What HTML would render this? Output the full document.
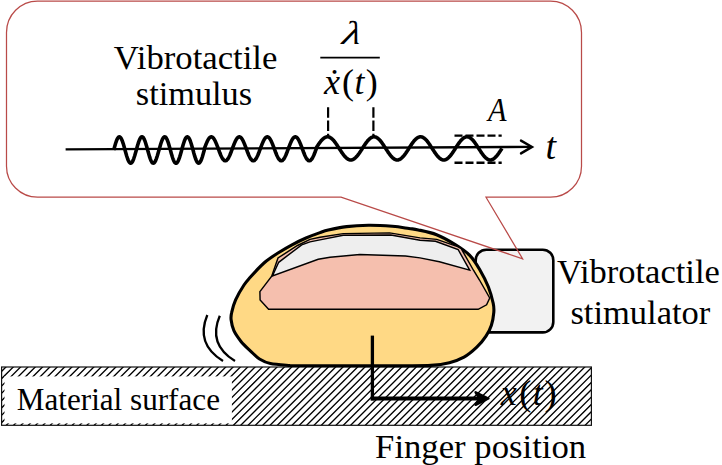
<!DOCTYPE html>
<html><head><meta charset="utf-8"><title>Vibrotactile stimulus</title>
<style>
html,body{margin:0;padding:0;background:#fff;}
body{width:722px;height:465px;overflow:hidden;}
svg{display:block;}
text{font-family:"Liberation Serif",serif;fill:#000;}
.it{font-style:italic;}
</style></head><body>
<svg width="722" height="465" viewBox="0 0 722 465">
<defs>
<clipPath id="hc"><rect x="1.6" y="367" width="589.8" height="58.3"/></clipPath>
</defs>
<rect width="722" height="465" fill="#fff"/>

<!-- material surface -->
<g clip-path="url(#hc)"><path id="hatchlines" d="M-60.90,426.5 L-0.40,366.0 M-53.57,426.5 L6.93,366.0 M-46.24,426.5 L14.26,366.0 M-38.92,426.5 L21.58,366.0 M-31.59,426.5 L28.91,366.0 M-24.26,426.5 L36.24,366.0 M-16.94,426.5 L43.56,366.0 M-9.61,426.5 L50.89,366.0 M-2.28,426.5 L58.22,366.0 M5.05,426.5 L65.55,366.0 M12.37,426.5 L72.87,366.0 M19.70,426.5 L80.20,366.0 M27.03,426.5 L87.53,366.0 M34.35,426.5 L94.85,366.0 M41.68,426.5 L102.18,366.0 M49.01,426.5 L109.51,366.0 M56.33,426.5 L116.83,366.0 M63.66,426.5 L124.16,366.0 M70.99,426.5 L131.49,366.0 M78.32,426.5 L138.82,366.0 M85.64,426.5 L146.14,366.0 M92.97,426.5 L153.47,366.0 M100.30,426.5 L160.80,366.0 M107.62,426.5 L168.12,366.0 M114.95,426.5 L175.45,366.0 M122.28,426.5 L182.78,366.0 M129.61,426.5 L190.11,366.0 M136.93,426.5 L197.43,366.0 M144.26,426.5 L204.76,366.0 M151.59,426.5 L212.09,366.0 M158.91,426.5 L219.41,366.0 M166.24,426.5 L226.74,366.0 M173.57,426.5 L234.07,366.0 M180.89,426.5 L241.39,366.0 M188.22,426.5 L248.72,366.0 M195.55,426.5 L256.05,366.0 M202.88,426.5 L263.38,366.0 M210.20,426.5 L270.70,366.0 M217.53,426.5 L278.03,366.0 M224.86,426.5 L285.36,366.0 M232.18,426.5 L292.68,366.0 M239.51,426.5 L300.01,366.0 M246.84,426.5 L307.34,366.0 M254.16,426.5 L314.66,366.0 M261.49,426.5 L321.99,366.0 M268.82,426.5 L329.32,366.0 M276.14,426.5 L336.64,366.0 M283.47,426.5 L343.97,366.0 M290.80,426.5 L351.30,366.0 M298.13,426.5 L358.63,366.0 M305.45,426.5 L365.95,366.0 M312.78,426.5 L373.28,366.0 M320.11,426.5 L380.61,366.0 M327.43,426.5 L387.93,366.0 M334.76,426.5 L395.26,366.0 M342.09,426.5 L402.59,366.0 M349.42,426.5 L409.92,366.0 M356.74,426.5 L417.24,366.0 M364.07,426.5 L424.57,366.0 M371.40,426.5 L431.90,366.0 M378.72,426.5 L439.22,366.0 M386.05,426.5 L446.55,366.0 M393.38,426.5 L453.88,366.0 M400.70,426.5 L461.20,366.0 M408.03,426.5 L468.53,366.0 M415.36,426.5 L475.86,366.0 M422.69,426.5 L483.19,366.0 M430.01,426.5 L490.51,366.0 M437.34,426.5 L497.84,366.0 M444.67,426.5 L505.17,366.0 M451.99,426.5 L512.49,366.0 M459.32,426.5 L519.82,366.0 M466.65,426.5 L527.15,366.0 M473.97,426.5 L534.47,366.0 M481.30,426.5 L541.80,366.0 M488.63,426.5 L549.13,366.0 M495.96,426.5 L556.46,366.0 M503.28,426.5 L563.78,366.0 M510.61,426.5 L571.11,366.0 M517.94,426.5 L578.44,366.0 M525.26,426.5 L585.76,366.0 M532.59,426.5 L593.09,366.0 M539.92,426.5 L600.42,366.0 M547.24,426.5 L607.74,366.0 M554.57,426.5 L615.07,366.0 M561.90,426.5 L622.40,366.0 M569.23,426.5 L629.73,366.0 M576.55,426.5 L637.05,366.0 M583.88,426.5 L644.38,366.0 M591.21,426.5 L651.71,366.0" stroke="#000" stroke-width="1.35" fill="none"/></g>
<rect x="1.6" y="367" width="589.8" height="58.3" fill="none" stroke="#111" stroke-width="1.2"/>
<rect x="4.5" y="376.4" width="227.4" height="47" fill="#fff"/>
<text x="16.8" y="410.2" font-size="31.15">Material surface</text>

<!-- stimulator -->
<rect x="475.7" y="249.7" width="77.6" height="82.7" rx="10.5" ry="10.5" fill="#f2f2f2" stroke="#000" stroke-width="2.6"/>

<!-- finger -->
<path id="finger" d="M290.0,365.5 C286.7,365.2 275.5,364.7 270.4,363.6 C265.3,362.5 262.9,361.1 259.5,359.0 C256.1,356.9 253.4,353.7 250.3,350.8 C247.2,347.9 243.9,345.1 241.2,341.7 C238.5,338.3 235.6,334.4 233.9,330.7 C232.2,327.0 231.5,322.8 231.1,319.7 C230.7,316.6 230.9,315.7 231.7,312.4 C232.4,309.1 233.5,304.4 235.6,299.8 C237.7,295.2 241.5,288.8 244.0,285.0 C246.5,281.2 247.2,280.7 250.5,277.0 C253.8,273.3 259.4,267.0 264.0,263.0 C268.6,259.0 273.3,256.0 278.0,253.0 C282.7,250.0 287.3,247.3 292.0,244.8 C296.7,242.3 301.3,240.0 306.0,238.0 C310.7,236.0 316.3,233.9 320.0,232.6 C323.7,231.3 323.9,231.0 328.3,230.0 C332.7,229.0 339.9,227.4 346.6,226.6 C353.3,225.8 360.9,225.4 368.5,225.3 C376.1,225.2 385.6,225.8 392.3,226.3 C399.1,226.8 404.7,227.9 409.0,228.5 C413.3,229.1 413.7,228.9 418.3,229.9 C422.9,230.9 430.5,232.3 436.6,234.7 C442.7,237.1 449.3,240.9 454.8,244.3 C460.3,247.7 465.3,250.9 469.5,255.2 C473.7,259.4 476.7,264.5 479.8,269.8 C482.9,275.1 486.2,281.4 488.4,287.0 C490.6,292.6 492.3,299.1 493.2,303.3 C494.1,307.5 494.1,308.8 493.8,312.4 C493.5,316.0 492.7,321.2 491.4,325.2 C490.1,329.2 488.4,332.5 486.0,336.2 C483.6,339.9 480.5,343.7 476.8,347.2 C473.1,350.7 468.6,354.6 464.0,357.2 C459.4,359.8 454.9,361.3 449.4,362.7 C443.9,364.1 439.2,364.9 431.0,365.4 C422.8,365.9 405.2,365.6 400.0,365.7 Z" fill="#ffd985" stroke="#000" stroke-width="3.1" stroke-linejoin="round"/>
<!-- pink -->
<path d="M259.9,291.6 L271.7,276.2 L278,258 L297.5,245.5 L310,239.4 L320,237.2 L343.2,233.6 L389.6,232.9 L420,237.9 L436.8,239.4 L457.6,246.6 L461.2,248.6 L473.6,270.5 L479.5,280 L489.7,298 L486.6,304.8 L478.2,309.3 L268.6,309.3 L260.1,300 Z" fill="#f5bfae" stroke="#000" stroke-width="1.45" stroke-linejoin="miter"/>
<!-- nail -->
<path d="M272.4,276 L278.7,262.3 L301.7,244.8 L310,241.9 L320,239.9 L343.2,235.3 L390.9,235.1 L420,240.3 L435.5,241.3 L458.1,249.5 L469.7,270.2 L439.4,261.8 L420,257.9 L405.5,256 L359.8,254.5 L330,257.2 L318.2,259.2 Z" fill="#eeeeee" stroke="#000" stroke-width="1.45" stroke-linejoin="miter"/>

<!-- vibration arcs -->
<path d="M207.3,315 C199,335 205,350 223,361" fill="none" stroke="#000" stroke-width="2.3"/>
<path d="M219.8,315.7 C211.5,335 217,350 235,361" fill="none" stroke="#000" stroke-width="2.3"/>

<!-- L arrow -->
<path d="M372.4,335.6 L372.4,400.4" fill="none" stroke="#000" stroke-width="3.3"/>
<path d="M370.75,398.5 L480,398.5" fill="none" stroke="#000" stroke-width="3.9"/>
<path d="M488.4,398.5 L475.6,392.3 L479.5,398.5 L475.6,404.8 Z" fill="#000" stroke="#000" stroke-width="2.5" stroke-linejoin="round"/>
<text y="404.8" font-size="36.5"><tspan x="500.8" font-size="36" class="it">x</tspan><tspan x="519.3" y="404.85">(</tspan><tspan x="532.8" y="404.8" font-size="35.5" class="it">t</tspan><tspan x="544.4" y="404.85">)</tspan></text>
<text x="375.1" y="458.4" font-size="34.7">Finger position</text>

<!-- stimulator label -->
<text x="557.1" y="282.6" font-size="34.5">Vibrotactile</text>
<text x="640.4" y="323.8" font-size="34.5" text-anchor="middle">stimulator</text>

<!-- bubble -->
<path d="M37.5,1.1 L550.5,1.1 A31,31.4 0 0 1 581.5,32.5 L581.5,166 A31,31 0 0 1 550.5,197.2 L486,197.2 L522.6,258.8 L341,197.2 L37.5,197.2 A31,31 0 0 1 6.5,166 L6.5,32.5 A31,31.4 0 0 1 37.5,1.1 Z" fill="none" stroke="#b94a48" stroke-width="1.25"/>

<text x="195.6" y="68.7" font-size="34.7" text-anchor="middle">Vibrotactile</text>
<text x="194" y="104.8" font-size="34.3" text-anchor="middle">stimulus</text>

<!-- fraction -->
<text transform="translate(341.2,43.6) skewX(-11) scale(1.3,1)" font-size="33" class="it">λ</text>
<line x1="320.3" y1="57.6" x2="379.8" y2="57.6" stroke="#000" stroke-width="1.6"/>
<text y="93.8" font-size="36"><tspan x="323.9" class="it">ẋ</tspan><tspan x="342" y="93.85">(</tspan><tspan x="354.5" y="93.8" font-size="35.5" class="it">t</tspan><tspan x="365.8" y="93.85">)</tspan></text>

<!-- axis -->
<line x1="65.6" y1="149.4" x2="530" y2="146.9" stroke="#000" stroke-width="2.4"/>
<path d="M521,140.6 L532,146.9 L521,153.4" fill="none" stroke="#000" stroke-width="2.4" stroke-linecap="round" stroke-linejoin="miter"/>
<text x="545.6" y="159.2" font-size="38" class="it">t</text>
<text transform="translate(487.9,121) scale(0.88,1)" font-size="34.5" class="it">A</text>

<!-- dashed -->
<line x1="328.1" y1="107.2" x2="328.1" y2="138" stroke="#000" stroke-width="2.2" stroke-dasharray="10.5,2.8"/>
<line x1="373.4" y1="107.2" x2="373.4" y2="138" stroke="#000" stroke-width="2.2" stroke-dasharray="10.5,2.8"/>
<line x1="454.5" y1="135.6" x2="501.7" y2="135.6" stroke="#000" stroke-width="2.4" stroke-dasharray="8,3"/>
<line x1="454.5" y1="162.8" x2="501.7" y2="162.8" stroke="#000" stroke-width="2.4" stroke-dasharray="8,3"/>

<path id="wave" d="M113.7,150.0 L114.2,148.2 L114.7,146.4 L115.2,144.7 L115.7,143.0 L116.2,141.6 L116.7,140.2 L117.2,139.1 L117.7,138.2 L118.2,137.5 L118.7,137.0 L119.2,136.8 L119.7,136.9 L120.2,137.2 L120.7,137.7 L121.2,138.5 L121.7,139.5 L122.2,140.7 L122.7,142.1 L123.2,143.6 L123.7,145.3 L124.2,147.0 L124.7,148.9 L125.2,150.7 L125.7,152.5 L126.2,154.3 L126.7,156.0 L127.2,157.5 L127.7,159.0 L128.2,160.2 L128.7,161.3 L129.2,162.1 L129.7,162.7 L130.2,163.1 L130.7,163.2 L131.2,163.1 L131.7,162.7 L132.2,162.0 L132.7,161.2 L133.2,160.1 L133.7,158.8 L134.2,157.3 L134.7,155.8 L135.2,154.1 L135.7,152.3 L136.2,150.5 L136.7,148.6 L137.2,146.8 L137.7,145.1 L138.2,143.4 L138.7,141.9 L139.2,140.5 L139.7,139.4 L140.2,138.4 L140.7,137.6 L141.2,137.1 L141.7,136.8 L142.2,136.8 L142.7,137.1 L143.2,137.5 L143.7,138.3 L144.2,139.2 L144.7,140.4 L145.2,141.7 L145.7,143.2 L146.2,144.9 L146.7,146.6 L147.2,148.4 L147.7,150.2 L148.2,152.1 L148.7,153.8 L149.2,155.5 L149.7,157.2 L150.2,158.6 L150.7,159.9 L151.2,161.0 L151.7,161.9 L152.2,162.6 L152.7,163.0 L153.2,163.2 L153.7,163.1 L154.2,162.8 L154.7,162.2 L155.2,161.4 L155.7,160.4 L156.2,159.1 L156.7,157.7 L157.2,156.2 L157.7,154.5 L158.2,152.7 L158.7,150.9 L159.3,149.1 L159.8,147.3 L160.3,145.5 L160.8,143.8 L161.3,142.3 L161.8,140.9 L162.3,139.6 L162.8,138.6 L163.3,137.8 L163.8,137.2 L164.3,136.9 L164.8,136.8 L165.3,137.0 L165.8,137.4 L166.3,138.1 L166.8,139.0 L167.3,140.1 L167.8,141.4 L168.3,142.8 L168.8,144.5 L169.3,146.2 L169.8,147.9 L170.3,149.8 L170.8,151.6 L171.3,153.4 L171.8,155.1 L172.3,156.8 L172.8,158.3 L173.3,159.6 L173.8,160.8 L174.3,161.7 L174.8,162.5 L175.3,162.9 L175.8,163.2 L176.3,163.2 L176.8,162.9 L177.3,162.4 L177.8,161.6 L178.3,160.6 L178.8,159.5 L179.3,158.1 L179.8,156.6 L180.3,154.9 L180.8,153.2 L181.3,151.4 L181.8,149.5 L182.3,147.7 L182.8,145.9 L183.3,144.2 L183.8,142.7 L184.3,141.2 L184.8,139.9 L185.3,138.8 L185.8,138.0 L186.3,137.3 L186.8,136.9 L187.3,136.8 L187.8,136.9 L188.3,137.3 L188.8,137.9 L189.3,138.7 L189.8,139.8 L190.3,141.0 L190.8,142.5 L191.3,144.0 L191.8,145.7 L192.3,147.5 L192.8,149.3 L193.3,151.1 L193.8,153.0 L194.3,154.7 L194.8,156.4 L195.3,157.9 L195.8,159.3 L196.3,160.5 L196.8,161.5 L197.3,162.3 L197.8,162.8 L198.3,163.1 L198.8,163.2 L199.3,163.0 L199.8,162.5 L200.3,161.8 L200.8,160.9 L201.3,159.8 L201.8,158.4 L202.3,157.0 L202.8,155.3 L203.3,153.6 L203.8,151.8 L204.3,150.0 L204.3,148.8 L204.8,147.5 L205.3,146.1 L205.8,144.8 L206.3,143.6 L206.8,142.4 L207.3,141.3 L207.8,140.3 L208.3,139.4 L208.8,138.6 L209.3,138.0 L209.8,137.5 L210.3,137.1 L210.8,136.9 L211.3,136.8 L211.8,136.9 L212.3,137.1 L212.8,137.5 L213.3,138.0 L213.8,138.6 L214.3,139.4 L214.8,140.3 L215.3,141.3 L215.8,142.4 L216.3,143.6 L216.8,144.8 L217.3,146.1 L217.8,147.5 L218.3,148.8 L218.8,150.1 L219.3,151.5 L219.8,152.8 L220.3,154.0 L220.8,155.2 L221.3,156.3 L221.8,157.3 L222.3,158.2 L222.8,159.0 L223.3,159.6 L223.8,160.1 L224.3,160.5 L224.8,160.7 L225.3,160.8 L225.8,160.7 L226.3,160.5 L226.8,160.1 L227.3,159.6 L227.8,159.0 L228.3,158.2 L228.8,157.3 L229.3,156.3 L229.8,155.2 L230.3,154.0 L230.8,152.8 L231.3,151.5 L231.8,150.1 L232.3,148.8 L232.8,147.5 L233.3,146.1 L233.8,144.8 L234.3,143.6 L234.8,142.4 L235.3,141.3 L235.8,140.3 L236.3,139.4 L236.8,138.6 L237.3,138.0 L237.8,137.5 L238.3,137.1 L238.8,136.9 L239.3,136.8 L239.8,136.9 L240.3,137.1 L240.8,137.5 L241.3,138.0 L241.8,138.6 L242.3,139.4 L242.8,140.3 L243.3,141.3 L243.8,142.4 L244.3,143.6 L244.8,144.8 L245.3,146.1 L245.8,147.5 L246.3,148.8 L246.8,150.1 L247.3,151.5 L247.8,152.8 L248.3,154.0 L248.8,155.2 L249.3,156.3 L249.8,157.3 L250.3,158.2 L250.8,159.0 L251.3,159.6 L251.8,160.1 L252.3,160.5 L252.8,160.7 L253.3,160.8 L253.8,160.7 L254.3,160.5 L254.8,160.1 L255.3,159.6 L255.8,159.0 L256.3,158.2 L256.8,157.3 L257.3,156.3 L257.8,155.2 L258.3,154.0 L258.8,152.8 L259.3,151.5 L259.8,150.1 L260.3,148.8 L260.8,147.5 L261.3,146.1 L261.8,144.8 L262.3,143.6 L262.8,142.4 L263.3,141.3 L263.8,140.3 L264.3,139.4 L264.8,138.6 L265.3,138.0 L265.8,137.5 L266.3,137.1 L266.8,136.9 L267.3,136.8 L267.8,136.9 L268.3,137.1 L268.8,137.5 L269.3,138.0 L269.8,138.6 L270.3,139.4 L270.8,140.3 L271.3,141.3 L271.8,142.4 L272.3,143.6 L272.8,144.8 L273.3,146.1 L273.8,147.5 L274.3,148.8 L274.8,150.1 L275.3,151.5 L275.8,152.8 L276.3,154.0 L276.8,155.2 L277.3,156.3 L277.8,157.3 L278.3,158.2 L278.8,159.0 L279.3,159.6 L279.8,160.1 L280.3,160.5 L280.8,160.7 L281.3,160.8 L281.8,160.7 L282.3,160.5 L282.8,160.1 L283.3,159.6 L283.8,159.0 L284.3,158.2 L284.8,157.3 L285.3,156.3 L285.8,155.2 L286.3,154.0 L286.8,152.8 L287.3,151.5 L287.8,150.1 L288.3,148.8 L288.8,147.5 L289.3,146.1 L289.8,144.8 L290.3,143.6 L290.8,142.4 L291.3,141.3 L291.8,140.3 L292.3,139.4 L292.8,138.6 L293.3,138.0 L293.8,137.5 L294.3,137.1 L294.8,136.9 L295.3,136.8 L295.8,136.9 L296.3,137.1 L296.8,137.5 L297.3,138.0 L297.8,138.6 L298.3,139.4 L298.8,140.3 L299.3,141.3 L299.8,142.4 L300.3,143.6 L300.8,144.8 L301.3,146.1 L301.8,147.5 L302.3,148.8 L302.8,150.1 L303.3,151.5 L303.8,152.8 L304.3,154.0 L304.8,155.2 L305.3,156.3 L305.8,157.3 L306.3,158.2 L306.8,159.0 L307.3,159.6 L307.8,160.1 L308.3,160.5 L308.8,160.7 L309.3,160.8 L309.8,160.7 L310.3,160.5 L310.8,160.1 L311.3,159.6 L311.8,159.0 L312.3,158.2 L312.8,157.3 L313.3,156.3 L313.8,155.2 L314.3,154.0 L314.8,152.8 L315.3,151.5 L315.8,150.1 L316.3,148.8 L315.9,148.4 L316.4,147.6 L316.9,146.8 L317.4,146.1 L317.9,145.3 L318.4,144.6 L318.9,143.8 L319.4,143.1 L319.9,142.4 L320.4,141.8 L320.9,141.1 L321.4,140.6 L321.9,140.0 L322.4,139.5 L322.9,139.0 L323.4,138.6 L323.9,138.2 L324.4,137.8 L324.9,137.5 L325.4,137.3 L325.9,137.1 L326.4,136.9 L326.9,136.8 L327.4,136.8 L327.9,136.8 L328.4,136.9 L328.9,137.0 L329.4,137.2 L329.9,137.4 L330.4,137.7 L330.9,138.0 L331.4,138.4 L331.9,138.8 L332.4,139.2 L332.9,139.7 L333.4,140.3 L333.9,140.8 L334.4,141.5 L334.9,142.1 L335.4,142.8 L335.9,143.5 L336.4,144.2 L336.9,144.9 L337.4,145.7 L337.9,146.5 L338.4,147.2 L338.9,148.0 L339.4,148.8 L339.9,149.6 L340.4,150.3 L340.9,151.1 L341.4,151.9 L341.9,152.6 L342.4,153.3 L342.9,154.0 L343.4,154.7 L343.9,155.3 L344.4,156.0 L344.9,156.5 L345.4,157.1 L345.9,157.6 L346.4,158.0 L346.9,158.4 L347.4,158.8 L347.9,159.1 L348.4,159.4 L348.9,159.6 L349.4,159.8 L349.9,159.9 L350.4,160.0 L350.9,160.0 L351.4,160.0 L351.9,159.9 L352.4,159.7 L352.9,159.5 L353.4,159.3 L353.9,159.0 L354.4,158.6 L354.9,158.2 L355.4,157.8 L355.9,157.3 L356.4,156.8 L356.9,156.2 L357.4,155.7 L357.9,155.0 L358.4,154.4 L358.9,153.7 L359.4,153.0 L359.9,152.2 L360.4,151.5 L360.9,150.7 L361.4,150.0 L361.9,149.2 L362.4,148.4 L362.9,147.6 L363.4,146.8 L363.9,146.1 L364.4,145.3 L364.9,144.6 L365.4,143.8 L365.9,143.1 L366.4,142.4 L366.9,141.8 L367.4,141.1 L367.9,140.6 L368.4,140.0 L368.9,139.5 L369.4,139.0 L369.9,138.6 L370.4,138.2 L370.9,137.8 L371.4,137.5 L371.9,137.3 L372.4,137.1 L372.9,136.9 L373.4,136.8 L373.9,136.8 L374.4,136.8 L374.9,136.9 L375.4,137.0 L375.9,137.2 L376.4,137.4 L376.9,137.7 L377.4,138.0 L377.9,138.4 L378.4,138.8 L378.9,139.2 L379.4,139.7 L379.9,140.3 L380.4,140.8 L380.9,141.5 L381.4,142.1 L381.9,142.8 L382.4,143.5 L382.9,144.2 L383.4,144.9 L383.9,145.7 L384.4,146.5 L384.9,147.2 L385.4,148.0 L385.9,148.8 L386.4,149.6 L386.9,150.3 L387.4,151.1 L387.9,151.9 L388.4,152.6 L388.9,153.3 L389.4,154.0 L389.9,154.7 L390.4,155.3 L390.9,156.0 L391.4,156.5 L391.9,157.1 L392.4,157.6 L392.9,158.0 L393.4,158.4 L393.9,158.8 L394.4,159.1 L394.9,159.4 L395.4,159.6 L395.9,159.8 L396.4,159.9 L396.9,160.0 L397.4,160.0 L397.9,160.0 L398.4,159.9 L398.9,159.7 L399.4,159.5 L399.9,159.3 L400.4,159.0 L400.9,158.6 L401.4,158.2 L401.9,157.8 L402.4,157.3 L402.9,156.8 L403.4,156.2 L403.9,155.7 L404.4,155.0 L404.9,154.4 L405.4,153.7 L405.9,153.0 L406.4,152.2 L406.9,151.5 L407.4,150.7 L407.9,150.0 L408.4,149.2 L408.9,148.4 L409.4,147.6 L409.9,146.8 L410.4,146.1 L410.9,145.3 L411.4,144.6 L411.9,143.8 L412.4,143.1 L412.9,142.4 L413.4,141.8 L413.9,141.1 L414.4,140.6 L414.9,140.0 L415.4,139.5 L415.9,139.0 L416.4,138.6 L416.9,138.2 L417.4,137.8 L417.9,137.5 L418.4,137.3 L418.9,137.1 L419.4,136.9 L419.9,136.8 L420.4,136.8 L420.9,136.8 L421.4,136.9 L421.9,137.0 L422.4,137.2 L422.9,137.4 L423.4,137.7 L423.9,138.0 L424.4,138.4 L424.9,138.8 L425.4,139.2 L425.9,139.7 L426.4,140.3 L426.9,140.8 L427.4,141.5 L427.9,142.1 L428.4,142.8 L428.9,143.5 L429.4,144.2 L429.9,144.9 L430.4,145.7 L430.9,146.5 L431.4,147.2 L431.9,148.0 L432.4,148.8 L432.9,149.6 L433.4,150.3 L433.9,151.1 L434.4,151.9 L434.9,152.6 L435.4,153.3 L435.9,154.0 L436.4,154.7 L436.9,155.3 L437.4,156.0 L437.9,156.5 L438.4,157.1 L438.9,157.6 L439.4,158.0 L439.9,158.4 L440.4,158.8 L440.9,159.1 L441.4,159.4 L441.9,159.6 L442.4,159.8 L442.9,159.9 L443.4,160.0 L443.9,160.0 L444.4,160.0 L444.9,159.9 L445.4,159.7 L445.9,159.5 L446.4,159.3 L446.9,159.0 L447.4,158.6 L447.9,158.2 L448.4,157.8 L448.9,157.3 L449.4,156.8 L449.9,156.2 L450.4,155.7 L450.9,155.0 L451.4,154.4 L451.9,153.7 L452.4,153.0 L452.9,152.2 L453.4,151.5 L453.9,150.7 L454.4,150.0 L454.9,149.2 L455.4,148.4 L455.9,147.6 L456.4,146.8 L456.9,146.1 L457.4,145.3 L457.9,144.6 L458.4,143.8 L458.9,143.1 L459.4,142.4 L459.9,141.8 L460.4,141.1 L460.9,140.6 L461.4,140.0 L461.9,139.5 L462.4,139.0 L462.9,138.6 L463.4,138.2 L463.9,137.8 L464.4,137.5 L464.9,137.3 L465.4,137.1 L465.9,136.9 L466.4,136.8 L466.9,136.8 L467.4,136.8 L467.9,136.9 L468.4,137.0 L468.9,137.2 L469.4,137.4 L469.9,137.7 L470.4,138.0 L470.9,138.4 L471.4,138.8 L471.9,139.2 L472.4,139.7 L472.9,140.3 L473.4,140.8 L473.9,141.5 L474.4,142.1 L474.9,142.8 L475.4,143.5 L475.9,144.2 L476.4,144.9 L476.9,145.7 L477.4,146.5 L477.9,147.2 L478.4,148.0 L478.9,148.8 L479.4,149.6 L479.9,150.3 L480.4,151.1 L480.9,151.9 L481.4,152.6 L481.9,153.3 L482.4,154.0 L482.9,154.7 L483.4,155.3 L483.9,156.0 L484.4,156.5 L484.9,157.1 L485.4,157.6 L485.9,158.0 L486.4,158.4 L486.9,158.8 L487.4,159.1 L487.9,159.4 L488.4,159.6 L488.9,159.8 L489.4,159.9 L489.9,160.0 L490.4,160.0 L490.9,160.0 L491.4,159.9 L491.9,159.7 L492.4,159.5 L492.9,159.3 L493.4,159.0 L493.9,158.6 L494.4,158.2 L494.9,157.8 L495.4,157.3 L495.9,156.8 L496.4,156.2 L496.9,155.7 L497.4,155.0 L497.9,154.4 L498.4,153.7 L498.9,153.0 L499.4,152.2 L499.9,151.5 L500.4,150.7 L500.9,150.0 L501.4,149.2 L501.9,148.4" fill="none" stroke="#000" stroke-width="3.6" stroke-linecap="butt" stroke-linejoin="round"/>
</svg>
</body></html>
